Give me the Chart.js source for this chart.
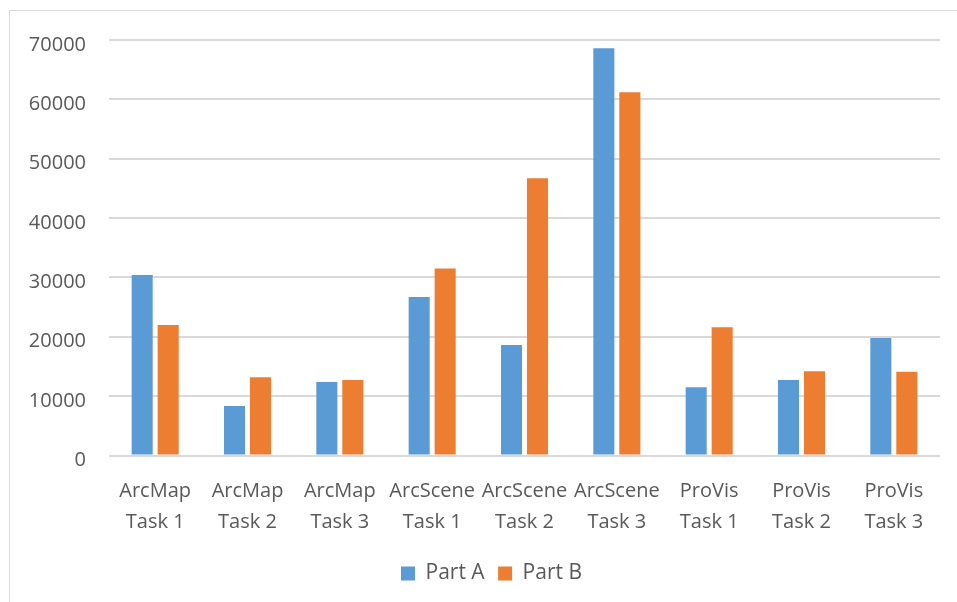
<!DOCTYPE html>
<html>
<head>
<meta charset="utf-8">
<script src="https://cdn.jsdelivr.net/npm/chart.js@4/dist/chart.umd.min.js"></script>
<style>
  html, body { margin: 0; padding: 0; background: #ffffff; overflow: hidden; }
  body { width: 957px; height: 602px; position: relative; }
  .frame { position: absolute; left: 9px; top: 10px; width: 990px; height: 620px; border: 1px solid #d9d9d9; box-sizing: border-box; }
  .plot { position: absolute; left: 9px; top: 0; width: 969px; height: 594px; }
</style>
</head>
<body>
<div class="frame"></div>
<div class="plot"><canvas id="chart"></canvas></div>
<script>
// Tasks compared across the two parts of the study
const categories = [
  ['ArcMap', 'Task 1'], ['ArcMap', 'Task 2'], ['ArcMap', 'Task 3'],
  ['ArcScene', 'Task 1'], ['ArcScene', 'Task 2'], ['ArcScene', 'Task 3'],
  ['ProVis', 'Task 1'], ['ProVis', 'Task 2'], ['ProVis', 'Task 3']
];
const seriesNames = ['Part A', 'Part B'];
const partA = [30400, 8350, 12400, 26700, 18600, 68600, 11500, 12700, 19800];
const partB = [22000, 13200, 12700, 31500, 46700, 61200, 21600, 14200, 14100];
const yTicks = [0, 10000, 20000, 30000, 40000, 50000, 60000, 70000];

const textColor = '#595959';
const fontFamily = '"Open Sans", "Liberation Sans", sans-serif';

// Centre the legend under the whole frame rather than under the padded layout box
const legendShift = {
  id: 'legendShift',
  afterLayout(chart) {
    const lg = chart.legend;
    if (lg) { lg.left += 17; lg.right += 17; }
  }
};

new Chart(document.getElementById('chart'), {
  type: 'bar',
  data: {
    labels: categories,
    datasets: [
      { label: seriesNames[0], data: partA, backgroundColor: '#5b9bd5', borderWidth: 0 },
      { label: seriesNames[1], data: partB, backgroundColor: '#ed7d31', borderWidth: 0 }
    ]
  },
  plugins: [legendShift],
  options: {
    responsive: true,
    maintainAspectRatio: false,
    animation: false,
    datasets: { bar: { barPercentage: 0.81, categoryPercentage: 0.563 } },
    layout: { padding: { top: 40, right: 38, bottom: 0, left: 0 } },
    plugins: {
      tooltip: { enabled: false },
      legend: {
        position: 'bottom',
        labels: {
          boxWidth: 14,
          boxHeight: 14,
          padding: 13.5,
          color: textColor,
          font: { family: fontFamily, size: 21 }
        }
      }
    },
    scales: {
      x: {
        grid: { display: false, drawTicks: false },
        border: { display: false },
        ticks: {
          color: textColor,
          padding: 20,
          maxRotation: 0,
          autoSkip: false,
          font: { family: fontFamily, size: 20, lineHeight: 1.55 }
        },
        afterFit: (scale) => { scale.height = 94; }
      },
      y: {
        min: yTicks[0],
        max: yTicks[yTicks.length - 1],
        afterBuildTicks: (scale) => { scale.ticks = yTicks.map(v => ({ value: v })); },
        grid: { color: '#d9d9d9', lineWidth: 2, drawTicks: false },
        border: { display: false },
        ticks: {
          color: textColor,
          padding: 23,
          labelOffset: 5,
          font: { family: fontFamily, size: 20 },
          callback: (v) => String(v)
        },
        afterFit: (scale) => { scale.width = 100; }
      }
    }
  }
});
</script>
</body>
</html>
